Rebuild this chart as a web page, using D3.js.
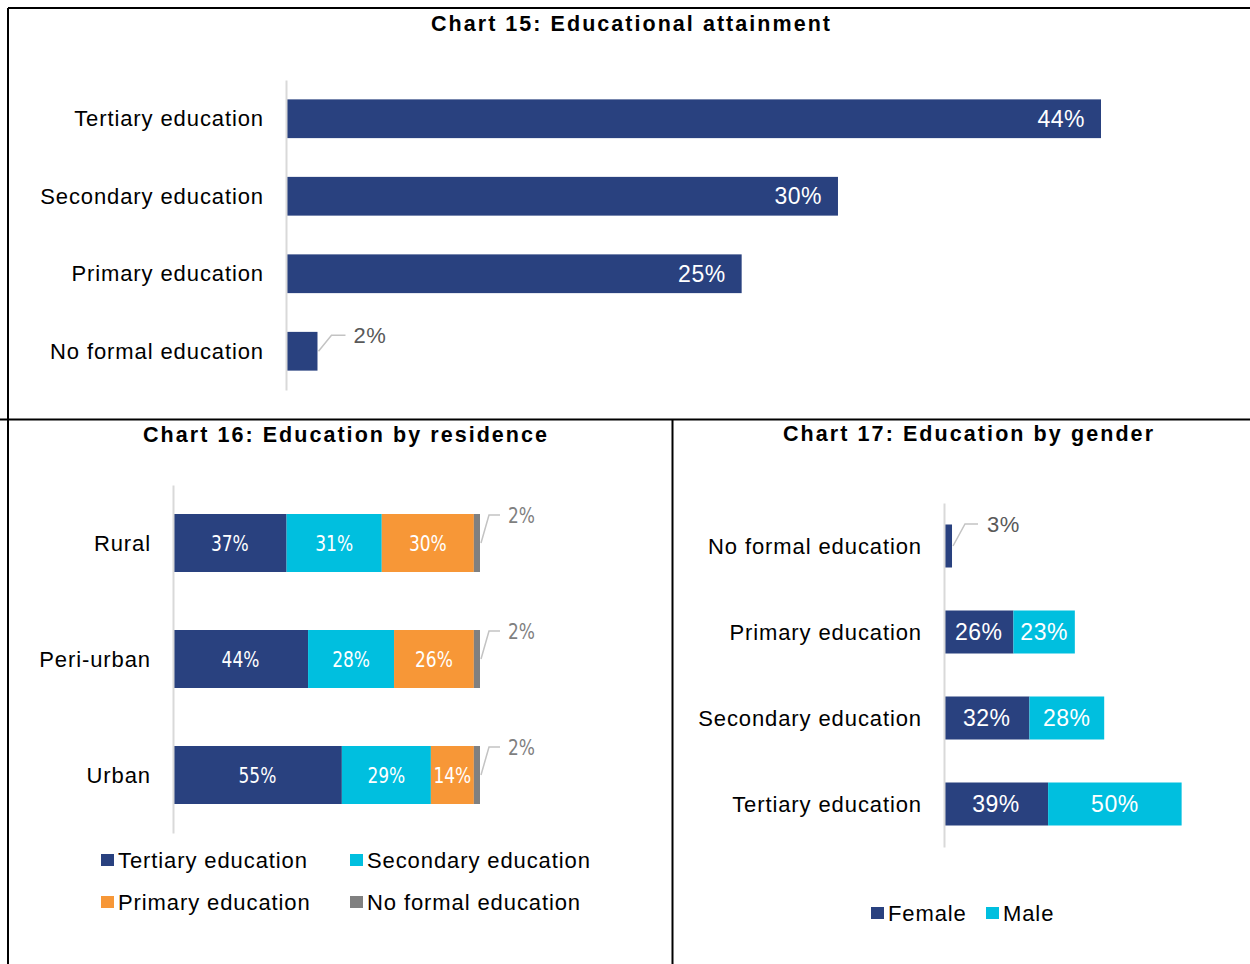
<!DOCTYPE html>
<html>
<head>
<meta charset="utf-8">
<script src="https://cdn.jsdelivr.net/npm/d3@7"></script>
<style>
  html, body { margin: 0; padding: 0; background: #fff; }
  svg { display: block; }
  text { font-family: "Liberation Sans", Arial, sans-serif; }
  .narrow { font-family: "Liberation Sans Narrow", "DejaVu Sans Condensed", "Liberation Sans", sans-serif; }
</style>
</head>
<body>
<svg id="chart" width="1250" height="964"></svg>
<script>
// ---------- DATA ----------
const titles = ["Chart 15: Educational attainment", "Chart 16: Education by residence", "Chart 17: Education by gender"];

const c15Categories = ["Tertiary education", "Secondary education", "Primary education", "No formal education"];
const c15Values = [44, 29.8, 24.6, 1.7];

const c16Residences = ["Rural", "Peri-urban", "Urban"];
const c16Levels = ["Tertiary education", "Secondary education", "Primary education", "No formal education"];
const c16Tertiary = [37, 44, 55];
const c16Secondary = [31, 28, 29];
const c16Primary = [30, 26, 14];
const c16NoFormal = [2, 2, 2];

const c17Categories = ["No formal education", "Primary education", "Secondary education", "Tertiary education"];
const c17Genders = ["Female", "Male"];
const c17Female = [3, 26, 32, 39];
const c17Male = [0, 23, 28, 50];

// ---------- STYLE ----------
const NAVY = "#29417F", CYAN = "#00BFDF", ORANGE = "#F79737", GREY = "#808080";
const AXIS = "#d9d9d9", LEADER = "#c3c3c3";
const fmt = v => Math.round(v) + "%";

const svg = d3.select("#chart");

// frame lines
const frame = svg.append("g").attr("stroke", "#000").attr("stroke-width", 2).attr("fill", "none");
frame.append("path").attr("d", "M8,8H1250");
frame.append("path").attr("d", "M8,8V964");
frame.append("path").attr("d", "M0,419.5H1250");
frame.append("path").attr("d", "M672.5,419V964");

// titles
const titleSpecs = [
  {x: 630.5, y: 31, w: 399},
  {x: 345, y: 442, w: 404},
  {x: 968, y: 441, w: 370}
];
titleSpecs.forEach((t, i) => {
  svg.append("text")
    .attr("x", t.x).attr("y", t.y)
    .attr("text-anchor", "middle")
    .attr("font-size", 21.5).attr("font-weight", "bold")
    .attr("fill", "#000")
    .attr("textLength", t.w).attr("lengthAdjust", "spacing")
    .text(titles[i]);
});

function drawAxis(g, y, x0) {
  const ax = g.append("g").attr("transform", `translate(${x0},0)`)
    .call(d3.axisLeft(y).tickSize(0).tickSizeOuter(0).tickPadding(22));
  ax.select(".domain").attr("stroke", AXIS).attr("stroke-width", 2);
  ax.selectAll(".tick text")
    .attr("font-family", "'Liberation Sans', Arial, sans-serif")
    .attr("font-size", 22).attr("fill", "#000")
    .attr("letter-spacing", 0.9)
    .attr("dy", "0.35em");
  return ax;
}

function squeeze(sel, factor) {
  sel.each(function () {
    const w = this.getComputedTextLength();
    d3.select(this).attr("textLength", w * factor).attr("lengthAdjust", "spacingAndGlyphs");
  });
}

function leader(g, xEnd, yMid, yLab, d1, d2, dt, label, color, narrow, size) {
  g.append("path")
    .attr("d", `M${xEnd + 1},${yMid}L${xEnd + d1},${yLab}L${xEnd + d2},${yLab}`)
    .attr("fill", "none").attr("stroke", LEADER).attr("stroke-width", 1.5);
  const t = g.append("text")
    .attr("x", xEnd + dt).attr("y", yLab).attr("dy", "0.35em")
    .attr("font-size", size).attr("fill", color)
    .attr("letter-spacing", narrow ? 0 : 0.6)
    .text(label);
  if (narrow) { t.attr("class", "narrow"); squeeze(t, 0.86); }
}

// ---------- CHART 15 ----------
{
  const g = svg.append("g");
  const x = d3.scaleLinear().domain([0, 44]).range([286, 1101]);
  const y = d3.scaleBand().domain(c15Categories).range([80, 390]).paddingInner(0.5).paddingOuter(0.25);
  const data = c15Categories.map((c, i) => ({c, v: c15Values[i]}));
  g.selectAll("rect").data(data).join("rect")
    .attr("x", x(0)).attr("y", d => y(d.c))
    .attr("width", d => x(d.v) - x(0)).attr("height", y.bandwidth())
    .attr("fill", NAVY);
  drawAxis(g, y, 286);
  data.forEach(d => {
    const yMid = y(d.c) + y.bandwidth() / 2;
    if (d.v >= 5) {
      g.append("text").attr("x", x(d.v) - 16).attr("y", yMid).attr("dy", "0.35em")
        .attr("text-anchor", "end").attr("font-size", 23).attr("letter-spacing", 0.5)
        .attr("fill", "#fff").text(fmt(d.v));
    } else {
      leader(g, x(d.v), yMid, yMid - 16, 14, 28, 36, fmt(d.v), "#595959", false, 22);
    }
  });
}

// ---------- CHART 16 ----------
{
  const g = svg.append("g");
  const x = d3.scaleLinear().domain([0, 100]).range([173, 480]);
  const y = d3.scaleBand().domain(c16Residences).range([485, 833]).paddingInner(0.5).paddingOuter(0.25);
  const colors = [NAVY, CYAN, ORANGE, GREY];
  const rows = c16Residences.map((r, i) => ({
    r, [c16Levels[0]]: c16Tertiary[i], [c16Levels[1]]: c16Secondary[i],
    [c16Levels[2]]: c16Primary[i], [c16Levels[3]]: c16NoFormal[i]
  }));
  const series = d3.stack().keys(c16Levels)(rows);
  series.forEach((s, k) => {
    g.append("g").selectAll("rect").data(s).join("rect")
      .attr("x", d => x(d[0])).attr("y", d => y(d.data.r))
      .attr("width", d => x(d[1]) - x(d[0])).attr("height", y.bandwidth())
      .attr("fill", colors[k]);
  });
  drawAxis(g, y, 173);
  series.forEach(s => {
    s.forEach(d => {
      const v = d[1] - d[0];
      const yTop = y(d.data.r), yMid = yTop + y.bandwidth() / 2;
      if (v >= 5) {
        const t = g.append("text").attr("class", "narrow")
          .attr("x", (x(d[0]) + x(d[1])) / 2).attr("y", yMid).attr("dy", "0.35em")
          .attr("text-anchor", "middle").attr("font-size", 22).attr("fill", "#fff")
          .text(fmt(v));
        squeeze(t, 0.86);
      } else if (v > 0) {
        leader(g, x(d[1]), yMid, yTop + 1, 9, 20, 28, fmt(v), "#7f7f7f", true, 22);
      }
    });
  });
  // legend
  const lg = svg.append("g");
  const pos = [[101, 860], [350, 860], [101, 902], [350, 902]];
  c16Levels.forEach((l, i) => {
    lg.append("rect").attr("x", pos[i][0]).attr("y", pos[i][1] - 6).attr("width", 13).attr("height", 12).attr("fill", colors[i]);
    lg.append("text").attr("x", pos[i][0] + 17).attr("y", pos[i][1]).attr("dy", "0.35em")
      .attr("font-size", 22).attr("letter-spacing", 0.9).attr("fill", "#000").text(l);
  });
}

// ---------- CHART 17 ----------
{
  const g = svg.append("g");
  const x = d3.scaleLinear().domain([0, 100]).range([944, 1211]);
  const y = d3.scaleBand().domain(c17Categories).range([503, 847]).paddingInner(0.5).paddingOuter(0.25);
  const colors = [NAVY, CYAN];
  const rows = c17Categories.map((c, i) => ({c, Female: c17Female[i], Male: c17Male[i]}));
  const series = d3.stack().keys(c17Genders)(rows);
  series.forEach((s, k) => {
    g.append("g").selectAll("rect").data(s).join("rect")
      .attr("x", d => x(d[0])).attr("y", d => y(d.data.c))
      .attr("width", d => x(d[1]) - x(d[0])).attr("height", y.bandwidth())
      .attr("fill", colors[k]);
  });
  drawAxis(g, y, 944);
  series.forEach(s => {
    s.forEach(d => {
      const v = d[1] - d[0];
      const yTop = y(d.data.c), yMid = yTop + y.bandwidth() / 2;
      if (v >= 5) {
        g.append("text")
          .attr("x", (x(d[0]) + x(d[1])) / 2).attr("y", yMid).attr("dy", "0.35em")
          .attr("text-anchor", "middle").attr("font-size", 23).attr("letter-spacing", 0.5)
          .attr("fill", "#fff").text(fmt(v));
      } else if (v > 0) {
        leader(g, x(d[1]), yMid, yMid - 22, 13, 26, 35, fmt(v), "#595959", false, 22);
      }
    });
  });
  const lg = svg.append("g");
  const pos = [[871, 913], [986, 913]];
  c17Genders.forEach((l, i) => {
    lg.append("rect").attr("x", pos[i][0]).attr("y", pos[i][1] - 6).attr("width", 13).attr("height", 12).attr("fill", colors[i]);
    lg.append("text").attr("x", pos[i][0] + 17).attr("y", pos[i][1]).attr("dy", "0.35em")
      .attr("font-size", 22).attr("letter-spacing", 0.9).attr("fill", "#000").text(l);
  });
}
</script>
</body>
</html>
